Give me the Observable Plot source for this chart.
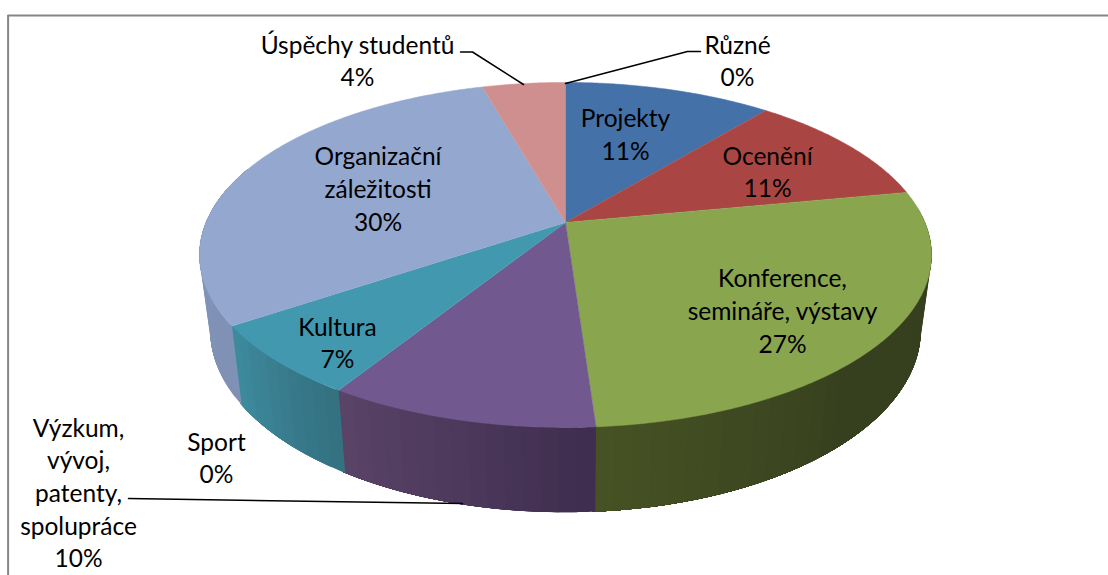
<!DOCTYPE html>
<html>
<head>
<meta charset="utf-8">
<style>html,body{margin:0;padding:0;background:#fff}svg{display:block}</style>
<script src="https://cdn.jsdelivr.net/npm/d3@7"></script>
<script src="https://cdn.jsdelivr.net/npm/@observablehq/plot@0.6"></script>
</head>
<body>
<div id="chart"></div>
<script>
const categories = ["Projekty","Ocenění","Konference, semináře, výstavy","Výzkum, vývoj, patenty, spolupráce","Sport","Kultura","Organizační záležitosti","Úspěchy studentů","Různé"];
const shares = [11, 11, 26.9, 10, 0, 6.7, 30, 4.4, 0];
const labelLines = ["Projekty","Ocenění","Konference,\nsemináře, výstavy","Výzkum,\nvývoj,\npatenty,\nspolupráce","Sport","Kultura","Organizační\nzáležitosti","Úspěchy studentů","Různé"];
const topColors = ["#4471a7","#a94644","#89a54e","#71588f","#4198af","#4198af","#93a7cf","#ce8f8e","#ce8f8e"];
const wallFrom = ["#4471a7","#a94644","#363f1e","#3e2d4e","#333333","#33707f","#7f91b5","#ce8f8e","#ce8f8e"];
const wallTo   = ["#4471a7","#a94644","#465224","#5a4468","#333333","#3d8b9f","#8294b7","#ce8f8e","#ce8f8e"];

// label anchors, in pixels on the picture
const labelX = [625, 767, 782, 78, 216, 337, 377.5, 357, 737];
const labelY = [132.5, 170, 309, 491, 456, 341, 187, 59, 59];

// pie geometry: perspective-projected discs
const K = 0.188;
const TOP = {a: 359.5, b: 166.4, c: 0};
const BOT = {a: 349, b: 176, c: -73};
const project = (t, ring) => {
  const u = Math.sin(t), v = Math.cos(t), d = 1 + K * v;
  return {x: ring.a * u / d, y: ring.c + ring.b * v / d};
};
const rad = d => d * Math.PI / 180;

let acc = 0;
const slices = categories.map((name, i) => {
  const a0 = acc * 3.6; acc += shares[i]; const a1 = acc * 3.6;
  return {name, i, a0, a1};
});

const topPts = [], wallPts = [];
for (const s of slices) {
  if (s.a1 <= s.a0) continue;
  topPts.push({id: s.i, x: 0, y: 0, fill: topColors[s.i]});
  const n = Math.ceil((s.a1 - s.a0) / 0.5);
  for (let j = 0; j <= n; j++) {
    const p = project(rad(s.a0 + (s.a1 - s.a0) * j / n), TOP);
    topPts.push({id: s.i, x: p.x, y: p.y, fill: topColors[s.i]});
  }
  // outer wall: each band runs on to the end of the slice and the next band paints over it
  const lo = Math.max(s.a0, 85), hi = Math.min(s.a1, 290);
  if (hi > lo) {
    const m = Math.ceil((hi - lo) / 2.5);
    const shade = d3.interpolateRgb(wallFrom[s.i], wallTo[s.i]);
    const end = hi + (hi < 290 ? 0.4 : 0);
    for (let j = 0; j < m; j++) {
      const t0 = lo + (hi - lo) * j / m;
      const f = (j + 0.5) / m;
      const col = s.i === 2 ? shade(Math.max(0, (f - 0.55) / 0.45)) : shade(f);
      const id = s.i + "-" + j;
      const q = Math.max(1, Math.ceil((end - t0) / 1));
      const angles = d3.range(q + 1).map(k => t0 + (end - t0) * k / q);
      for (const t of angles) {
        const p = project(rad(t), TOP);
        wallPts.push({id, x: p.x, y: p.y, fill: col});
      }
      for (const t of angles.slice().reverse()) {
        const p = project(rad(t), BOT);
        wallPts.push({id, x: p.x, y: p.y, fill: col});
      }
    }
  }
}

// leader lines and frame, pixels on the picture
const leaderPts = [
  {id: "u", px: 460, py: 51.5}, {id: "u", px: 472, py: 51.5}, {id: "u", px: 523, py: 84},
  {id: "r", px: 700, py: 51}, {id: "r", px: 687, py: 51}, {id: "r", px: 565, py: 83},
  {id: "v", px: 128, py: 498}, {id: "v", px: 462, py: 503}
];
const CX = 565, CY = 222;
const X = p => p - CX, Y = p => CY - p;

const labels = slices.map(s => ({
  text: labelLines[s.i] + "\n" + d3.format(".0f")(shares[s.i]) + "%",
  x: X(labelX[s.i]), y: Y(labelY[s.i])
}));

const chart = Plot.plot({
  width: 1108, height: 575,
  margin: 0,
  x: {type: "linear", domain: [-CX, 1108 - CX], range: [0, 1108], axis: null},
  y: {type: "linear", domain: [CY, CY - 575], range: [0, 575], axis: null},
  style: {background: "#fff"},
  marks: [
    Plot.ruleY([Y(15)], {x1: X(7.6), x2: X(1108), stroke: "#868686", strokeWidth: 2}),
    Plot.ruleX([X(7.6)], {y1: Y(15), y2: Y(575), stroke: "#868686", strokeWidth: 2}),
    Plot.line(wallPts, {x: "x", y: "y", z: "id", fill: "fill", stroke: null, curve: "linear"}),
    Plot.line(topPts, {x: "x", y: "y", z: "id", fill: "fill", stroke: "fill", strokeWidth: 0.5, curve: "linear"}),
    Plot.line(leaderPts, {x: d => X(d.px), y: d => Y(d.py), z: "id", stroke: "#000", strokeWidth: 1.5, curve: "linear"}),
    Plot.text(labels, {x: "x", y: "y", text: "text", fontSize: 24.5, lineHeight: 1.33, fontFamily: "Lato", fill: "#000", textAnchor: "middle"})
  ]
});
document.getElementById("chart").appendChild(chart);
</script>
</body>
</html>
